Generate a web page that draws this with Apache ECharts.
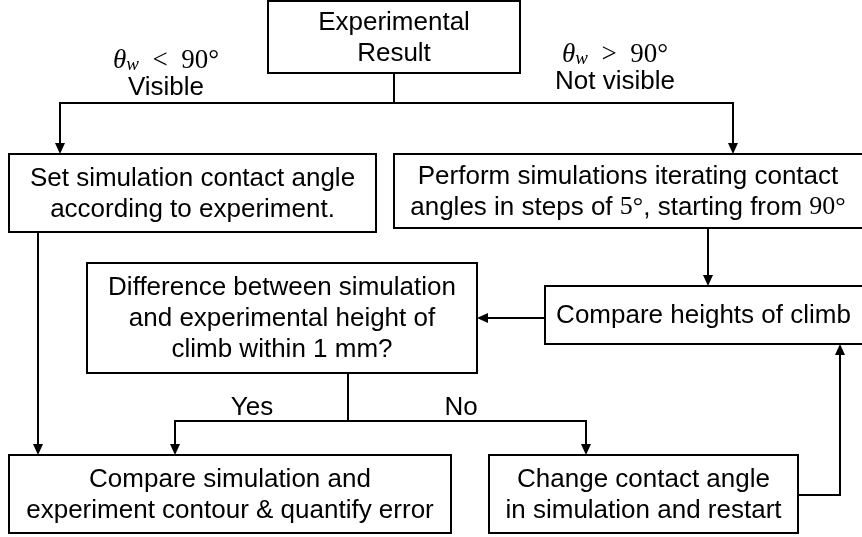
<!DOCTYPE html>
<html>
<head>
<meta charset="utf-8">
<script src="https://cdn.jsdelivr.net/npm/echarts@6/dist/echarts.min.js"></script>
<style>
  html, body { margin: 0; padding: 0; background: #fff; }
  #chart { width: 862px; height: 537px; }
</style>
</head>
<body>
<div id="chart"></div>
<script>
// flowchart texts
const boxTexts = [
  'Experimental\nResult',
  'Set simulation contact angle\naccording to experiment.',
  'Perform simulations iterating contact\nangles in steps of {m|5°}, starting from {m|90°}',
  'Compare heights of climb',
  'Difference between simulation\nand experimental height of\nclimb within 1 mm?',
  'Compare simulation and\nexperiment contour & quantify error',
  'Change contact angle\nin simulation and restart'
]
const branchTexts = [
  '{t|θ}{s|w}{q|\u2002<\u200290°}\nVisible',
  '{t|θ}{s|w}{q|\u2002>\u200290°}\nNot visible',
  'Yes',
  'No'
]

// layout (plot units = pixels): box corners [x0, y0, x1, y1]
const boxRects = [
  [268, 1, 520, 73],
  [9, 154, 376, 232],
  [394, 154, 864, 228],
  [545, 286, 864, 344],
  [87, 263, 477, 373],
  [9, 455, 451, 533],
  [489, 455, 798, 533]
]
const branchAnchors = [[166, 74], [615, 68], [252, 408], [461, 408]]
// connector paths, last point gets the arrow head
const connectors = [
  [[394, 73], [394, 103], [60, 103], [60, 154]],
  [[394, 103], [733, 103], [733, 154]],
  [[38, 232], [38, 455]],
  [[708, 228], [708, 286]],
  [[545, 318], [477, 318]],
  [[348, 373], [348, 421], [175, 421], [175, 455]],
  [[348, 421], [586, 421], [586, 455]],
  [[798, 495], [840, 495], [840, 344]]
]

const sansFont = 'Liberation Sans, Arial, sans-serif'
const mathFont = 'Liberation Serif, DejaVu Serif, serif'
const arrowLen = 11
const arrowHalf = 5

const richStyles = {
  m: { fontFamily: mathFont, fontSize: 26 },
  q: { fontFamily: mathFont, fontSize: 27 },
  t: { fontFamily: mathFont, fontSize: 27, fontStyle: 'italic' },
  s: { fontFamily: mathFont, fontSize: 19, fontStyle: 'italic', verticalAlign: 'bottom' }
}

let chart = echarts.init(document.getElementById('chart'))
chart.setOption({
  animation: false,
  grid: { left: 0, right: 0, top: 0, bottom: 0 },
  xAxis: { type: 'value', min: 0, max: 862, show: false },
  yAxis: { type: 'value', min: 0, max: 537, inverse: true, show: false },
  series: [
    {
      // arrows
      type: 'custom',
      data: connectors.map((c, i) => [i]),
      renderItem: function (params, api) {
        const pts = connectors[params.dataIndex].map(p => api.coord(p))
        const a = pts[pts.length - 2]
        const b = pts[pts.length - 1]
        const dx = b[0] - a[0], dy = b[1] - a[1]
        const len = Math.hypot(dx, dy)
        const ux = dx / len, uy = dy / len
        const base = [b[0] - ux * arrowLen, b[1] - uy * arrowLen]
        const linePts = pts.slice(0, -1).concat([base])
        return {
          type: 'group',
          children: [
            {
              type: 'polyline',
              shape: { points: linePts },
              style: { stroke: '#000', lineWidth: 2, fill: null, lineJoin: 'miter' }
            },
            {
              type: 'polygon',
              shape: {
                points: [
                  b,
                  [base[0] - uy * arrowHalf, base[1] + ux * arrowHalf],
                  [base[0] + uy * arrowHalf, base[1] - ux * arrowHalf]
                ]
              },
              style: { fill: '#000' }
            }
          ]
        }
      }
    },
    {
      // boxes
      type: 'custom',
      data: boxTexts.map((t, i) => [i]),
      renderItem: function (params, api) {
        const r = boxRects[params.dataIndex]
        const p0 = api.coord([r[0], r[1]])
        const p1 = api.coord([r[2], r[3]])
        return {
          type: 'group',
          children: [
            {
              type: 'rect',
              shape: { x: p0[0], y: p0[1], width: p1[0] - p0[0], height: p1[1] - p0[1] },
              style: { fill: '#fff', stroke: '#000', lineWidth: 2 }
            },
            {
              type: 'text',
              x: (Math.min(p1[0], 862) + p0[0]) / 2,
              y: (p0[1] + p1[1]) / 2 + 1,
              style: {
                text: boxTexts[params.dataIndex],
                fontFamily: sansFont,
                fontSize: 26,
                lineHeight: 31,
                fill: '#000',
                align: 'center',
                verticalAlign: 'middle',
                rich: richStyles
              }
            }
          ]
        }
      }
    },
    {
      // branch labels
      type: 'custom',
      data: branchTexts.map((t, i) => [i]),
      renderItem: function (params, api) {
        const p = api.coord(branchAnchors[params.dataIndex])
        return {
          type: 'text',
          x: p[0],
          y: p[1],
          style: {
            text: branchTexts[params.dataIndex],
            fontFamily: sansFont,
            fontSize: 26,
            lineHeight: 27,
            fill: '#000',
            align: 'center',
            verticalAlign: 'middle',
            rich: richStyles
          }
        }
      }
    }
  ]
})
</script>
</body>
</html>
